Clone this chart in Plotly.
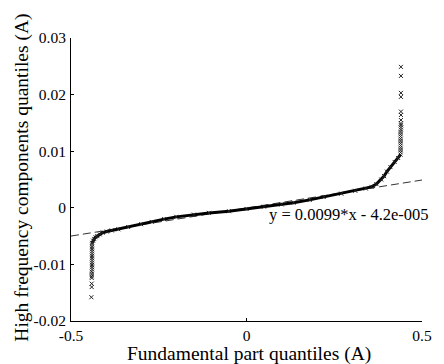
import plotly.graph_objects as go

# Dense central part of the Q-Q curve
core_x = [-0.440, -0.437, -0.434, -0.430, -0.425, -0.418, -0.410, -0.398, -0.384,
          -0.365, -0.337, -0.300, -0.270, -0.235, -0.200, -0.150, -0.107, -0.050,
          0.000, 0.050, 0.100, 0.134, 0.180, 0.220, 0.270, 0.310, 0.340, 0.356,
          0.370, 0.384, 0.392, 0.400, 0.410, 0.422, 0.432, 0.439]
core_y = [-0.0062, -0.0058, -0.0055, -0.0052, -0.0050, -0.0047, -0.0044, -0.0042, -0.0040,
          -0.0038, -0.0034, -0.0029, -0.0025, -0.0020, -0.0016, -0.0012, -0.0009, -0.0006,
          -0.0002, 0.0002, 0.0006, 0.0009, 0.0014, 0.0019, 0.0025, 0.0030, 0.0034, 0.0037,
          0.0042, 0.0050, 0.0056, 0.0064, 0.0072, 0.0081, 0.0088, 0.0094]

# Lower tail (column of points near x = -0.44)
low_x = [-0.440, -0.440, -0.440, -0.440, -0.440, -0.440, -0.440, -0.440, -0.440,
         -0.440, -0.440, -0.440, -0.441, -0.441, -0.441, -0.441, -0.441, -0.441, -0.442]
low_y = [-0.0065, -0.0069, -0.0073, -0.0077, -0.0081, -0.0085, -0.0089, -0.0093, -0.0097,
         -0.0101, -0.0105, -0.0109, -0.0113, -0.0117, -0.0121, -0.0124, -0.0134, -0.0140, -0.0158]

# Upper tail (column of points near x = 0.44)
high_x = [0.439, 0.439, 0.439, 0.439, 0.439, 0.439, 0.439, 0.439, 0.439, 0.439,
          0.440, 0.440, 0.440, 0.440, 0.440, 0.440, 0.440, 0.440, 0.440, 0.440, 0.440]
high_y = [0.0098, 0.0102, 0.0106, 0.0110, 0.0114, 0.0118, 0.0122, 0.0126, 0.0130, 0.0134,
          0.0138, 0.0142, 0.0146, 0.0149, 0.0155, 0.0164, 0.0170, 0.0196, 0.0203,
          0.0233, 0.0249]

# Fitted line
slope = 0.0099
intercept = -4.2e-5
fit_x = [-0.5, 0.5]
fit_y = [slope * v + intercept for v in fit_x]

x_ticks = [-0.5, 0, 0.5]
x_ticktext = ["-0.5", "0", "0.5"]
y_ticks = [-0.02, -0.01, 0, 0.01, 0.02, 0.03]
y_ticktext = ["-0.02", "-0.01", "0", "0.01", "0.02", "0.03"]

FONT = "Liberation Serif"
mk = dict(symbol="x-thin", size=4, line=dict(width=1, color="#222222"), color="#222222")

fig = go.Figure()
fig.add_trace(go.Scatter(x=fit_x, y=fit_y, mode="lines",
                         line=dict(color="#333333", width=1, dash="8px,4px"),
                         showlegend=False, hoverinfo="skip"))
fig.add_trace(go.Scatter(x=core_x, y=core_y, mode="lines+markers",
                         line=dict(color="black", width=3), marker=mk, showlegend=False))
fig.add_trace(go.Scatter(x=low_x, y=low_y, mode="markers", marker=mk, showlegend=False))
fig.add_trace(go.Scatter(x=high_x, y=high_y, mode="markers", marker=mk, showlegend=False))

axis_common = dict(showline=True, linecolor="black", linewidth=1, ticks="inside",
                   ticklen=3, tickcolor="black", showgrid=False, zeroline=False,
                   mirror=False, tickfont=dict(family=FONT, size=15.5, color="black"))

fig.update_layout(
    width=444, height=364,
    margin=dict(l=71, r=12, t=38, b=43),
    paper_bgcolor="white", plot_bgcolor="white",
    font=dict(family=FONT, color="black"),
    xaxis=dict(range=[-0.5, 0.5], tickvals=x_ticks, ticktext=x_ticktext,
               ticklabelstandoff=0, **axis_common),
    yaxis=dict(range=[-0.02, 0.03], tickvals=y_ticks, ticktext=y_ticktext,
               ticklabelstandoff=1, **axis_common),
    annotations=[
        dict(text="y = 0.0099*x - 4.2e-005", xref="x", yref="y", x=0.057, y=-0.0012,
             xanchor="left", yanchor="middle", showarrow=False,
             font=dict(family=FONT, size=16.5, color="black")),
        dict(text="Fundamental part quantiles (A)", xref="paper", yref="paper",
             x=0.506, y=-0.118, xanchor="center", yanchor="middle", showarrow=False,
             font=dict(family=FONT, size=19.5, color="black")),
        dict(text="High frequency components quantiles (A)", xref="paper", yref="paper",
             x=-0.14, y=0.506, xanchor="center", yanchor="middle", showarrow=False,
             textangle=-90, font=dict(family=FONT, size=19.5, color="black")),
    ],
)

fig.write_html("out.html")
